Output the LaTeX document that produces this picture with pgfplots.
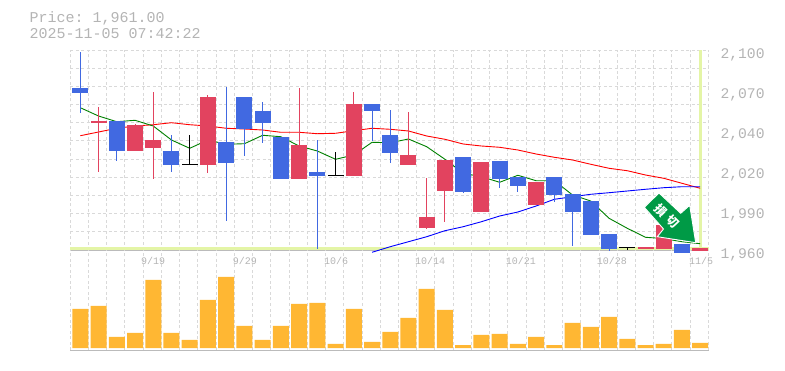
\documentclass[border=0pt]{standalone}
\usepackage{pgfplots}
\usepackage{pgfplotstable}
\usepackage{fontspec}
\pgfplotsset{compat=1.18}
\setmainfont{Liberation Sans}
\newfontfamily\pix{Liberation Mono}
\newfontfamily\cjk{Noto Sans CJK JP}
\frenchspacing
\definecolor{gridc}{HTML}{D9D9D9}
\definecolor{axisc}{HTML}{BBBBBB}
\definecolor{txtc}{HTML}{B4B4B4}
\definecolor{upc}{HTML}{E2435F}
\definecolor{downc}{HTML}{4169E1}
\definecolor{volc}{HTML}{FFB733}
\definecolor{bandc}{HTML}{E4F5A6}
\definecolor{arrowc}{HTML}{009A46}

\pgfplotstableread{
i hi lo top bot
0 2098.6 2056.1 2073.4 2069.9
2 2050.3 2022.5 2050.3 2029.3
5 2040.5 2014.6 2029.3 2019.5
8 2074.1 1980.3 2035.6 2020.9
9 2067.1 2025.8 2067.1 2044.5
10 2063.6 2034.9 2057.3 2048.9
11 2039.1 2009.7 2039.1 2009.7
13 2037.0 1960.7 2014.6 2011.8
16 2062.2 2036.3 2062.2 2057.3
17 2058.0 2020.9 2040.5 2027.9
21 2025.1 1999.9 2025.1 2000.6
23 2022.3 2003.4 2022.3 2009.7
24 2011.1 2000.6 2011.1 2004.8
26 2011.1 1993.6 2011.1 1998.5
27 1999.2 1962.8 1999.2 1986.6
28 1994.3 1970.5 1994.3 1970.5
29 1971.2 1959.3 1971.2 1960.7
33 1964.2 1957.9 1964.2 1957.9
}\downtable
\pgfplotstableread{
i hi lo top bot
1 2060.1 2014.6 2050.3 2048.9
3 2048.2 2029.3 2047.5 2029.3
4 2070.6 2009.9 2037.0 2031.4
7 2068.5 2013.9 2067.1 2019.5
12 2073.4 2009.7 2033.5 2009.7
15 2070.6 2011.8 2062.2 2011.8
18 2056.6 2019.5 2026.5 2019.5
19 2010.4 1974.7 1983.1 1975.4
20 2023.0 1979.6 2023.0 2001.3
22 2021.6 1986.6 2021.6 1986.6
25 2007.6 1991.5 2007.6 1991.5
31 1962.1 1960.7 1962.1 1960.7
32 1977.5 1960.7 1977.5 1960.7
34 1961.4 1959.3 1961.4 1959.3
}\uptable
\pgfplotstableread{
i hi lo top bot
6 2040.5 2020.0 2020.4 2019.7
14 2028.6 2012.3 2012.6 2011.9
30 1961.9 1960.0 1962.2 1961.5
}\flattable
\pgfplotstableread{
i green red
0 2059.6 2040.0
1 2053.8 2042.6
2 2049.8 2045.2
3 2050.8 2046.8
4 2046.8 2047.7
5 2037.0 2049.1
6 2031.2 2047.7
7 2037.0 2046.8
8 2034.0 2045.2
9 2034.4 2044.7
10 2040.3 2044.0
11 2039.3 2042.4
12 2032.8 2042.4
13 2029.3 2041.4
14 2023.5 2041.7
15 2026.5 2043.5
16 2035.4 2045.2
17 2035.1 2044.5
18 2037.7 2043.3
19 2032.3 2039.8
20 2023.5 2037.5
21 2013.7 2034.2
22 2011.3 2032.8
23 2007.4 2031.9
24 2012.3 2030.0
25 2008.5 2027.2
26 2008.5 2024.9
27 1998.5 2023.0
28 1994.3 2020.0
29 1982.2 2017.2
30 1975.2 2015.5
31 1968.9 2012.5
32 1968.0 2010.2
33 1965.8 2006.7
34 1964.4 2003.2
}\matable
\pgfplotstableread{
i v
16 1958.4
17 1962.3
18 1965.8
19 1969.3
20 1973.5
21 1976.3
22 1979.8
23 1983.8
24 1986.6
25 1990.8
26 1995.5
27 1997.3
28 1999.0
29 2000.1
30 2001.3
31 2002.5
32 2003.6
33 2004.3
34 2004.3
}\trendtable
\pgfplotstableread{
i v
0 39
1 42
2 11
3 15
4 68
5 15
6 8
7 48
8 71
9 22
10 8
11 22
12 44
13 45
14 4
15 39
16 6
17 16
18 30
19 59
20 38
21 3
22 13
23 14
24 4
25 11
26 3
27 25
28 21
29 31
30 9
31 3
32 4
33 18
34 5
}\voltable

\tikzset{xlab/.style={text=txtc, inner sep=0pt, font=\pix\fontsize{10}{10}\selectfont}}
\pgfplotsset{
  panel/.style={
    scale only axis, width=639pt, xmin=-0.55, xmax=34.5, clip=false,
    axis line style={draw=none}, major tick length=0pt,
    xtick={-0.55,0.45,...,34.5}, xticklabels={},
    xmajorgrids, major grid style={gridc, line width=1pt, dash pattern=on 3pt off 2.5pt},
  },
  candle wick/.style={draw=none, forget plot, error bars/.cd, y dir=minus, y explicit, error mark=none,
    error bar style={line width=1pt, solid, color=#1}},
  candle body/.style={draw=none, forget plot, error bars/.cd, y dir=minus, y explicit, error mark=none,
    error bar style={line width=16pt, solid, color=#1}},
}
\newcommand{\candles}[2]{%
  \addplot[candle wick=#2] table[x=i, y=hi, y error minus expr=\thisrow{hi}-\thisrow{lo}] {#1};
  \addplot[candle body=#2] table[x=i, y=top, y error minus expr=\thisrow{top}-\thisrow{bot}] {#1};
}

\begin{document}
\begin{tikzpicture}[x=1pt,y=1pt]
\path[use as bounding box] (0,0) rectangle (785,370);
\node[anchor=west, inner sep=0pt, text=txtc] at (29.5,351.5) {\pix\fontsize{15}{15}\selectfont Price: 1,961.00};
\node[anchor=west, inner sep=0pt, text=txtc] at (29.5,336.5) {\pix\fontsize{15}{15}\selectfont 2025-11-05 07:42:22};

\begin{axis}[panel, at={(70.3pt,120pt)}, anchor=south west, height=200pt,
  ymin=1960, ymax=2100, ymajorgrids,
  ytick={1960,1972.73,1985.45,1998.18,2010.91,2023.64,2036.36,2049.09,2061.82,2074.55,2087.27,2100},
  yticklabels={},
  yticklabel pos=right,
  extra y ticks={1960,1988,2016,2044,2072,2100},
  extra y tick labels={{1,960},{1,990},{2,020},{2,040},{2,070},{2,100}},
  extra y tick style={grid=none, major tick length=0pt, yticklabel pos=right,
    yticklabel style={text=txtc, anchor=west, xshift=11pt, yshift=-5pt, inner sep=0pt,
      font=\pix\fontsize{14.7}{15}\selectfont}},
]
\addplot[bandc, line width=3.3pt, forget plot] coordinates {(-0.55,1961) (34.5,1961)};
\addplot[bandc, line width=3pt, forget plot] coordinates {(34.02,2100) (34.02,1960)};
\addplot[axisc, line width=1pt, forget plot] coordinates {(-0.55,1959.7) (34.5,1959.7)};
\addplot[red, line width=0.9pt] table[x=i, y=red] {\matable};
\addplot[black!50!green, line width=0.9pt] table[x=i, y=green] {\matable};
\addplot[blue, line width=0.9pt] table[x=i, y=v] {\trendtable};
\candles{\downtable}{downc}
\candles{\uptable}{upc}
\candles{\flattable}{black}
\end{axis}

\begin{axis}[panel, at={(70.3pt,20pt)}, anchor=south west, height=100pt,
  ymin=-2, ymax=98, ytick=\empty]
\addplot[ybar, bar width=16pt, fill=volc, draw=none] table[x=i, y=v] {\voltable};
\addplot[axisc, line width=1pt, forget plot] coordinates {(-0.55,-2) (34.5,-2)};
\node[xlab] at (axis cs:3.99,87) {9/19};
\node[xlab] at (axis cs:9.03,87) {9/29};
\node[xlab] at (axis cs:14.03,87) {10/6};
\node[xlab] at (axis cs:19.18,87) {10/14};
\node[xlab] at (axis cs:24.17,87) {10/21};
\node[xlab] at (axis cs:29.16,87) {10/28};
\node[xlab] at (axis cs:34.05,87) {11/5};
\end{axis}

\filldraw[fill=arrowc, draw=white, line width=0.9pt, line join=miter]
  (644.3,162.7) -- (659,177) -- (680.7,156.7) -- (689.7,164.7) -- (695.7,127.3) -- (657.3,133.3) -- (663.5,141) -- cycle;
\node[rotate=-45, text=white, inner sep=0pt, font=\cjk\bfseries\fontsize{12}{12}\selectfont] at (666.7,154) {損\hspace{4.5pt}切};
\end{tikzpicture}
\end{document}
